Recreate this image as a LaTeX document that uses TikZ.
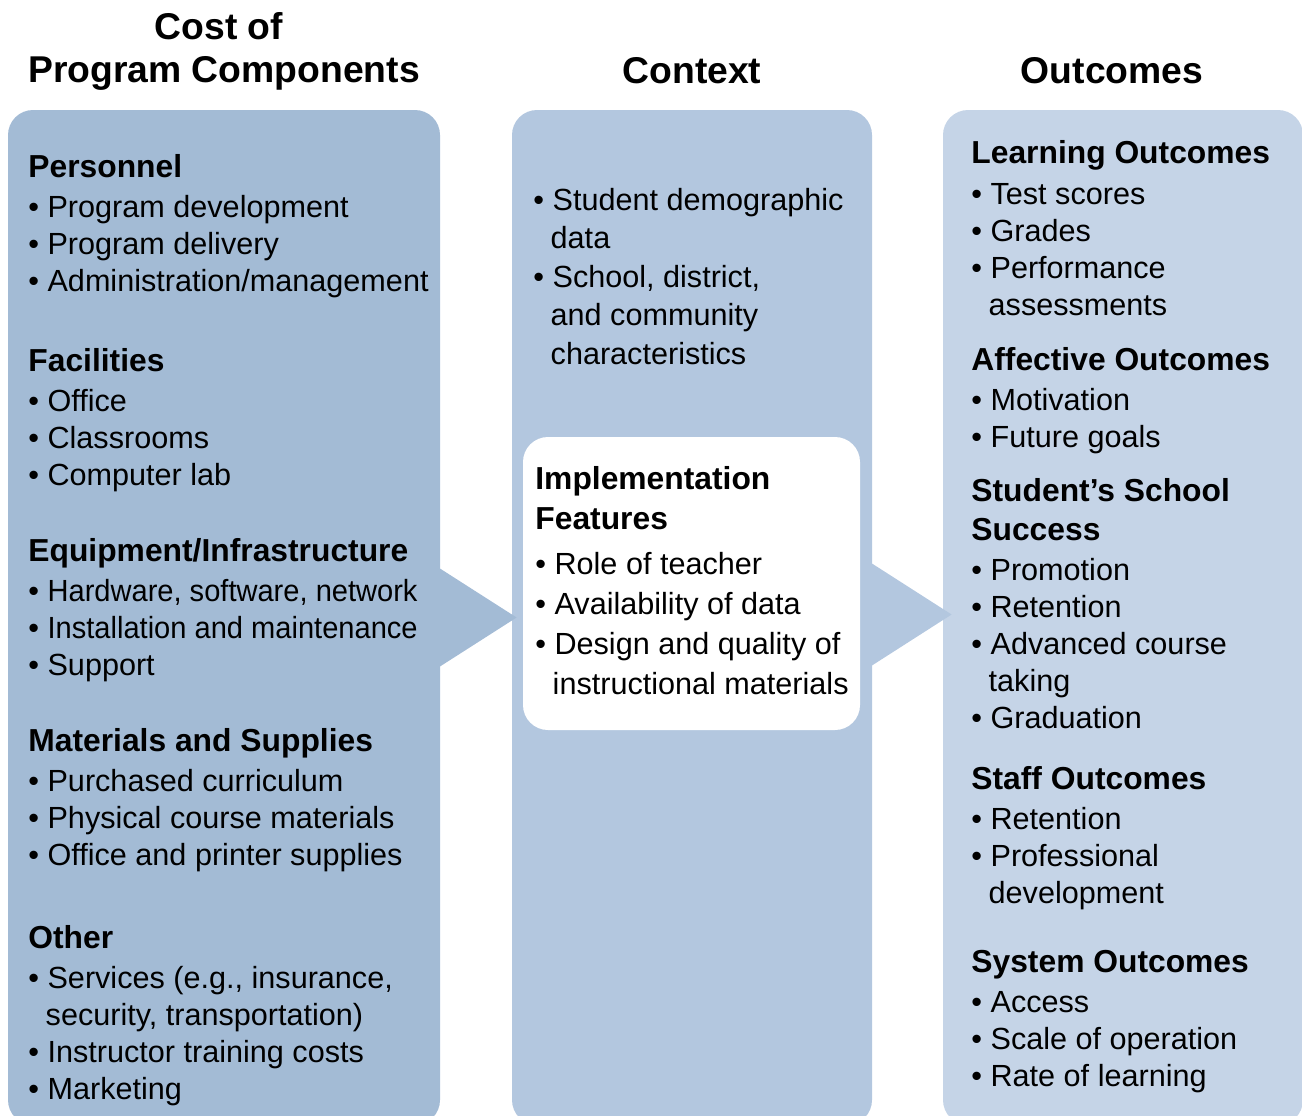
\documentclass[tikz,border=0pt]{standalone}
\usepackage{graphicx}
\usepackage{fontspec}
\setmainfont{Liberation Sans}
\usetikzlibrary{calc}
\definecolor{costfill}{RGB}{163,187,213}
\definecolor{ctxfill}{RGB}{179,199,223}
\definecolor{outfill}{RGB}{197,212,231}
\newcommand{\bul}{\textbullet\ }
\newcommand{\cont}{\hphantom{\textbullet}\hspace{3.3pt}}
\newcommand{\hd}[1]{{\fontsize{15.9}{18.5}\selectfont\bfseries #1}}
\newcommand{\narrow}[1]{\scalebox{0.95}[1]{#1}}

\begin{document}
\begin{tikzpicture}[x=0.5pt,y=-0.5pt]
\tikzstyle{panel}=[rectangle,rounded corners=12.5pt,inner sep=0pt,minimum height=507.5pt]
\tikzstyle{title}=[font=\fontsize{18.65}{21.5}\selectfont\bfseries,align=center,anchor=base,inner sep=0pt]
\tikzstyle{sect}=[font=\fontsize{15.3}{18.5}\selectfont,align=left,anchor=base west,inner sep=0pt]
\useasboundingbox (0,0) rectangle (1302,1115);
\clip (0,0) rectangle (1302,1115);

\node[panel,fill=costfill,minimum width=216pt](cost) at (224,617.5) {};
\node[panel,fill=ctxfill,minimum width=180pt](ctx) at (692,617.5) {};
\node[panel,fill=outfill,minimum width=180pt](out) at (1123,617.5) {};
\fill[costfill] ($(cost.east)+(-2,-50)$) -- ($(ctx.west)+(5,0)$) -- ($(cost.east)+(-2,50)$) -- cycle;
\fill[ctxfill] ($(ctx.east)+(-2,-55)$) -- ($(out.west)+(9,-3)$) -- ($(ctx.east)+(-2,49)$) -- cycle;
\node[panel,fill=white,minimum width=168.5pt,minimum height=146.5pt](impl) at (691.5,583.5) {};

\node[title](costtitle) at (224,82) {Cost of\hspace*{5pt}\\Program Components};
\node[title](ctxtitle) at (692,83) {Context};
\node[title](outtitle) at (1112,83) {Outcomes};

\node[sect](pers) at (28,291) {\hd{Personnel}\\[1.5pt] \bul Program development\\ \bul Program delivery\\ \bul Administration/management};
\node[sect](facil) at (28,485) {\hd{Facilities}\\[1.5pt] \bul Office\\ \bul Classrooms\\ \bul Computer lab};
\node[sect](equip) at (28,675) {\hd{Equipment/Infrastructure}\\[1.5pt] \bul \narrow{Hardware, software, network}\\ \bul \narrow{Installation and maintenance}\\ \bul Support};
\node[sect](mater) at (28,865) {\hd{Materials and Supplies}\\[1.5pt] \bul Purchased curriculum\\ \bul Physical course materials\\ \bul Office and printer supplies};
\node[sect](other) at (28,1099) {\hd{Other}\\[1.5pt] \bul Services (e.g., insurance,\\ \cont security, transportation)\\ \bul Instructor training costs\\ \bul Marketing};

\node[sect,font=\fontsize{15.3}{19.25}\selectfont](ctxlist) at (533,364) {\bul Student demographic\\ \cont data\\ \bul School, district,\\ \cont and community\\ \cont characteristics};
\node[sect,font=\fontsize{15.3}{20}\selectfont](impllist) at (535,694) {\hd{Implementation}\\ \hd{Features}\\[2.5pt] \bul Role of teacher\\ \bul Availability of data\\ \bul Design and quality of\\ \cont instructional materials};

\node[sect](learn) at (971,315) {\hd{Learning Outcomes}\\[2pt] \bul Test scores\\ \bul Grades\\ \bul Performance\\ \cont assessments};
\node[sect](affect) at (971,447) {\hd{Affective Outcomes}\\[1.5pt] \bul Motivation\\ \bul Future goals};
\node[sect](school) at (971,728) {\hd{Student’s School}\\[1pt] \hd{Success}\\[1.5pt] \bul Promotion\\ \bul Retention\\ \bul Advanced course\\ \cont taking\\ \bul Graduation};
\node[sect](staff) at (971,903) {\hd{Staff Outcomes}\\[1.5pt] \bul Retention\\ \bul Professional\\ \cont development};
\node[sect](system) at (971,1086) {\hd{System Outcomes}\\[1.5pt] \bul Access\\ \bul Scale of operation\\ \bul Rate of learning};
\end{tikzpicture}
\end{document}
